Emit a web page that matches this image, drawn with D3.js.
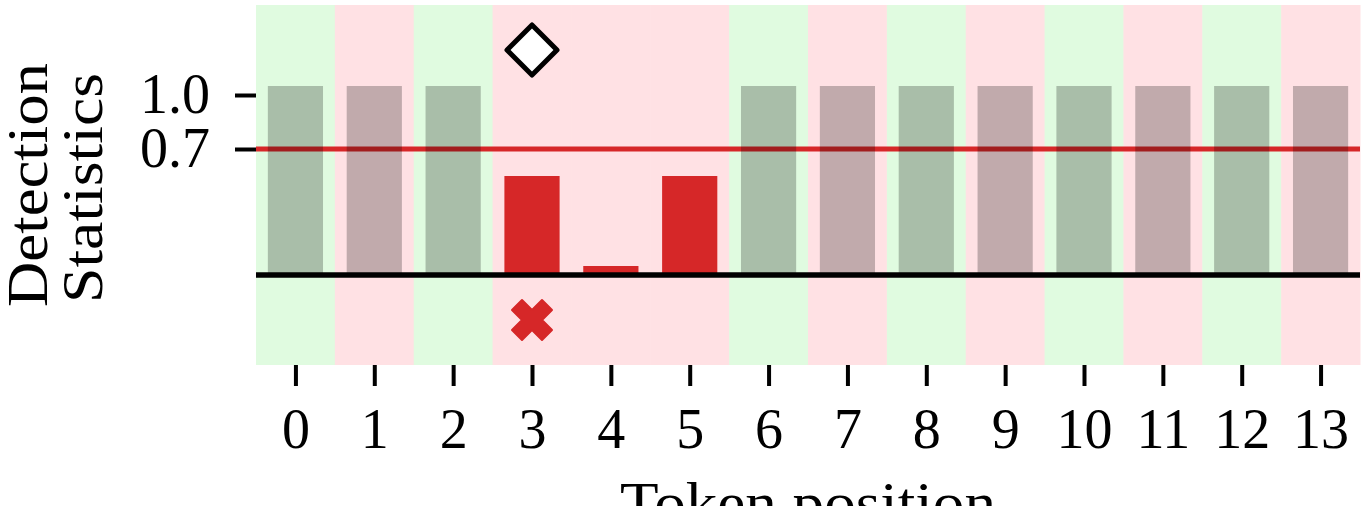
<!DOCTYPE html>
<html>
<head>
<meta charset="utf-8">
<script src="https://cdn.jsdelivr.net/npm/d3@7"></script>
<style>
  html, body { margin: 0; padding: 0; background: #fff; }
  svg { display: block; }
  text { font-family: "Liberation Serif", "Times New Roman", serif; }
</style>
</head>
<body>
<svg id="chart" width="1363" height="506"></svg>
<script>
// ---- data ----
const tokens = [0, 1, 2, 3, 4, 5, 6, 7, 8, 9, 10, 11, 12, 13];
const tickLabels = ["0", "1", "2", "3", "4", "5", "6", "7", "8", "9", "10", "11", "12", "13"];
const bandStatus = ["g", "r", "g", "r", "r", "r", "g", "r", "g", "r", "g", "r", "g", "r"];
const grayTokens = [0, 1, 2, 6, 7, 8, 9, 10, 11, 12, 13];
const grayValues = [1.05, 1.05, 1.05, 1.05, 1.05, 1.05, 1.05, 1.05, 1.05, 1.05, 1.05];
const redTokens = [3, 4, 5];
const redValues = [0.55, 0.05, 0.55];
const threshold = 0.7;
const yTicks = [0.7, 1.0];
const yTickLabels = ["0.7", "1.0"];
const diamondPoint = [{ token: 3, value: 1.25 }];
const crossPoint = [{ token: 3, value: -0.25 }];

// ---- layout ----
const svg = d3.select("#chart");
const mLeft = 256, mRight = 1360, mTop = 5, mBottom = 365;
const x = d3.scaleLinear().domain([-0.5, 13.5]).range([mLeft, mRight]);
const y = d3.scaleLinear().domain([-0.5, 1.5]).range([mBottom, mTop]);
const step = x(1) - x(0);
const barW = step * 0.7;
const RED = "#d62728";

// background bands
svg.append("g").selectAll("rect").data(tokens).join("rect")
  .attr("x", d => x(d - 0.5))
  .attr("y", y(1.5))
  .attr("width", step + 0.5)
  .attr("height", y(-0.5) - y(1.5))
  .attr("fill", (d, i) => bandStatus[i] === "g" ? "#e0fbe0" : "#ffe1e4");

// threshold line
svg.append("line")
  .attr("x1", mLeft).attr("x2", mRight)
  .attr("y1", y(threshold)).attr("y2", y(threshold))
  .attr("stroke", RED).attr("stroke-width", 5);

// translucent gray bars
svg.append("g").selectAll("rect").data(grayTokens).join("rect")
  .attr("x", d => x(d) - barW / 2)
  .attr("y", (d, i) => y(grayValues[i]))
  .attr("width", barW)
  .attr("height", (d, i) => y(0) - y(grayValues[i]))
  .attr("fill", "#000").attr("fill-opacity", 0.245);

// red bars
svg.append("g").selectAll("rect").data(redTokens).join("rect")
  .attr("x", d => x(d) - barW / 2)
  .attr("y", (d, i) => y(redValues[i]))
  .attr("width", barW)
  .attr("height", (d, i) => y(0) - y(redValues[i]))
  .attr("fill", RED);

// baseline
svg.append("line")
  .attr("x1", mLeft).attr("x2", mRight)
  .attr("y1", y(0)).attr("y2", y(0))
  .attr("stroke", "#000").attr("stroke-width", 5.5);

// diamond marker
svg.append("g").selectAll("path").data(diamondPoint).join("path")
  .attr("d", d3.symbol(d3.symbolSquare, 1250)())
  .attr("transform", d => `translate(${x(d.token)},${y(d.value)}) rotate(45)`)
  .attr("fill", "#fff").attr("stroke", "#000").attr("stroke-width", 5)
  .attr("stroke-linejoin", "round");

// X marker
svg.append("g").selectAll("path").data(crossPoint).join("path")
  .attr("d", d3.symbol(d3.symbolCross, 1000)())
  .attr("transform", d => `translate(${x(d.token)},${y(d.value)}) rotate(45)`)
  .attr("fill", RED).attr("stroke", RED).attr("stroke-width", 2).attr("stroke-linejoin", "round");

// x axis
const xAxis = svg.append("g").attr("transform", `translate(0,${mBottom})`)
  .call(d3.axisBottom(x).tickValues(tokens).tickFormat((d, i) => tickLabels[i])
    .tickSize(21).tickPadding(22));
xAxis.select(".domain").remove();
xAxis.selectAll(".tick line").attr("stroke", "#000").attr("stroke-width", 4);
xAxis.selectAll(".tick text").attr("font-size", 56).attr("fill", "#000")
  .attr("font-family", "Liberation Serif");

// y axis
const yAxis = svg.append("g").attr("transform", `translate(${mLeft},0)`)
  .call(d3.axisLeft(y).tickValues(yTicks).tickFormat((d, i) => yTickLabels[i])
    .tickSize(21).tickPadding(25));
yAxis.select(".domain").remove();
yAxis.selectAll(".tick line").attr("stroke", "#000").attr("stroke-width", 4);
yAxis.selectAll(".tick text").attr("font-size", 56).attr("fill", "#000")
  .attr("font-family", "Liberation Serif");

// axis titles
svg.append("text")
  .attr("transform", "translate(47,185) rotate(-90)")
  .attr("text-anchor", "middle").attr("font-size", 57).attr("fill", "#000")
  .attr("textLength", 244).attr("lengthAdjust", "spacingAndGlyphs")
  .text("Detection");
svg.append("text")
  .attr("transform", "translate(102,188) rotate(-90)")
  .attr("text-anchor", "middle").attr("font-size", 57).attr("fill", "#000")
  .attr("textLength", 230).attr("lengthAdjust", "spacingAndGlyphs")
  .text("Statistics");

svg.append("text")
  .attr("x", (mLeft + mRight) / 2).attr("y", 522)
  .attr("text-anchor", "middle").attr("font-size", 57).attr("fill", "#000")
  .attr("textLength", 376).attr("lengthAdjust", "spacingAndGlyphs")
  .text("Token position");
</script>
</body>
</html>
